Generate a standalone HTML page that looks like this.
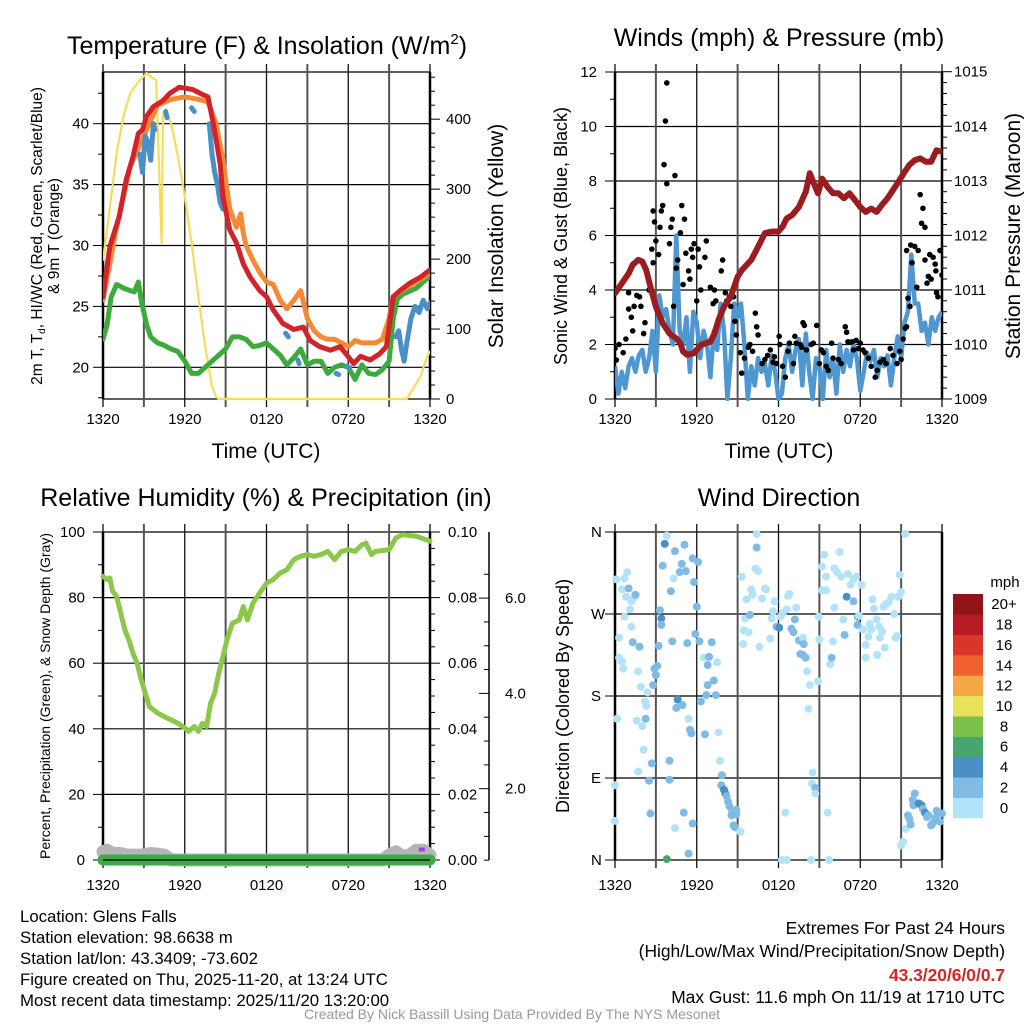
<!DOCTYPE html>
<html><head><meta charset="utf-8"><style>
body{margin:0;background:#fff}
svg{display:block;font-family:"Liberation Sans",sans-serif}
</style></head><body>
<svg id="s" width="1024" height="1024" viewBox="0 0 1024 1024">
<g>
<g font-size="16.8" fill="#000">
<text x="20" y="922">Location: Glens Falls</text>
<text x="20" y="943">Station elevation: 98.6638 m</text>
<text x="20" y="964">Station lat/lon: 43.3409; -73.602</text>
<text x="20" y="985">Figure created on Thu, 2025-11-20, at 13:24 UTC</text>
<text x="20" y="1006">Most recent data timestamp: 2025/11/20 13:20:00</text>
</g>
<g font-size="17.4" text-anchor="end">
<text x="1005" y="934">Extremes For Past 24 Hours</text>
<text x="1005" y="957">(High/Low/Max Wind/Precipitation/Snow Depth)</text>
<text x="1005" y="981" fill="#d62728" font-weight="bold">43.3/20/6/0/0.7</text>
<text x="1005" y="1003">Max Gust: 11.6 mph On 11/19 at 1710 UTC</text>
</g>
<text x="512" y="1019" font-size="14" fill="#999" text-anchor="middle">Created By Nick Bassill Using Data Provided By The NYS Mesonet</text>
</g>
</svg>
<script>
// ---------- DATA ----------
const timeTickLabels=["1320","1920","0120","0720","1320"];
const redH=[0,0.5,1.2,1.7,2.2,2.6,2.9,3.2,3.7,4.4,4.9,5.6,6.6,7.3,7.7,8.1,8.6,8.8,9.3,9.8,10.3,10.8,11.5,12,12.5,13.2,14,14.7,15.2,15.9,16.7,17.4,18.4,18.9,19.6,20.3,20.8,21.3,21.8,22.5,23.3,24];
const redT=[25.8,29.9,32.4,35.4,37.3,39.2,39.5,40.6,41.4,41.9,42.5,43.0,42.8,42.4,42.2,40.0,36.7,34.0,31.3,30.2,28.5,27.4,26.3,25.8,24.7,23.6,23.1,23.3,22.2,21.7,21.4,21.7,20.3,20.9,20.6,21.1,21.7,25.8,26.3,26.9,27.4,28.0];
const orH=[0,1,2,3,4,5,6,7,7.7,8.3,8.8,9.3,9.8,10.1,10.3,10.5,11,11.5,12,12.5,13,13.5,14,14.5,15,15.5,16,16.5,17,18,18.5,19,20,20.5,21,21.3,21.8,22.5,23.3,24];
const orT=[25.5,31.5,36.5,39,41.5,42,42.2,42,41.8,40,37,33,31.5,32.6,31,30,28.8,27.8,27,26.8,25.5,24.8,25.5,26.3,24,23,22.5,22.3,22.3,21.7,22.2,22,22,22.3,24,25.8,26.2,26.7,27.2,27.8];
const grH=[0,0.3,0.6,1,1.5,2,2.3,2.6,2.8,3.2,3.5,4,4.5,5,5.5,6,6.5,7,7.5,8,8.5,9,9.5,10,10.5,11,11.5,12,12.5,13,13.5,14,14.5,15,15.5,16,16.5,17,17.5,18,18.5,19,19.5,20,20.5,21,21.3,21.6,22,23,24];
const grT=[22.3,23.5,25.8,26.8,26.5,26.3,26.2,27,25.5,23.5,22.5,22,21.8,21.5,21.3,20.5,19.5,19.5,20,20.5,21,21.5,22.5,22.5,22.3,21.7,21.8,22,21.5,21,20.2,20.8,21.5,20.2,20.5,20.5,19.5,20,20.2,20,19,20.2,19.5,19.4,19.8,20.5,24,25.6,26,26.5,27.5];
const blH=[2.7,2.9,3.1,3.3,3.5,3.7,3.8,null,4.6,4.7,null,6.5,6.7,null,7.8,8.0,8.2,8.4,8.6,8.8,null,13.4,13.6,null,14.3,14.4,null,17.1,17.3,null,17.9,18.1,null,21.5,21.7,21.9,22.1,22.3,22.6,22.9,23.2,23.5,23.8,24];
const blT=[37.5,36,39,38.5,37,40,39.5,null,41,40.5,null,41.3,41,null,40,37.5,36,35,33.5,33,null,22.8,22.5,null,20.6,20.3,null,19.5,19.4,null,20.1,20,null,22.5,23,21.5,20.5,22,24,25,24.5,25.5,24.8,25.3];
const solH=[0,0.3,1,1.5,2,2.5,3.2,3.6,3.9,4.3,4.4,4.6,5,5.5,6,6.5,7,7.5,8,8.3,8.5,22.3,22.7,23.3,23.7,24];
const solW=[199,242,351,404,437,451,466,459,456,223,409,413,394,347,289,223,146,75,18,3,0,0,13,32,56,68];

const presH=[0,0.5,1,1.3,1.7,2,2.3,2.6,3,3.5,4,4.5,4.8,5,5.3,5.8,6.3,7,7.3,7.6,8,8.5,9,9.3,10,10.5,11,11.5,12,12.3,12.6,13,13.5,14,14.3,14.6,14.9,15.2,15.6,16,16.4,16.8,17.2,17.6,18,18.4,18.8,19.2,19.6,20,20.4,20.8,21.2,21.6,22,22.4,22.8,23.2,23.6,24];
const presMb=[1010.94,1011.12,1011.3,1011.46,1011.55,1011.52,1011.36,1011.06,1010.69,1010.39,1010.2,1010.11,1010.02,1009.87,1009.81,1009.84,1009.99,1010.05,1010.2,1010.45,1010.69,1010.88,1011.24,1011.36,1011.55,1011.79,1012.04,1012.07,1012.07,1012.16,1012.31,1012.37,1012.52,1012.8,1013.14,1012.95,1012.77,1013.04,1012.89,1012.77,1012.77,1012.68,1012.77,1012.65,1012.52,1012.43,1012.49,1012.43,1012.56,1012.68,1012.83,1012.98,1013.14,1013.29,1013.38,1013.41,1013.35,1013.35,1013.56,1013.53];
const windStep=0.25;
const windMph=[1.2,0.2,1.0,0.4,1.2,1.5,1.0,1.6,1.8,1.0,1.5,2.5,1.0,3.8,3.0,3.3,2.5,2.0,6.0,2.5,2.0,3.0,1.0,3.2,2.8,1.5,2.5,2.0,0.8,2.5,1.8,3.5,2.5,0.0,1.5,3.5,3.0,3.5,2.0,0.0,1.2,0.5,1.5,1.0,1.3,0.5,1.6,1.0,0.0,0.2,1.5,2.0,1.0,1.8,2.2,0.5,2.4,1.0,0.0,1.5,1.2,0.0,1.8,0.8,1.5,0.2,2.0,1.0,1.8,1.2,2.0,1.5,0.3,1.0,1.7,1.4,1.8,0.8,1.5,1.2,1.6,0.5,1.5,2.3,1.5,2.8,3.2,5.3,3.5,3.5,2.5,2.8,2.0,3.0,2.5,3.0,3.2];
const gustH=[0,0.1,0.3,0.6,0.8,1.0,1.0,1.2,1.3,1.4,1.6,1.8,1.9,2.1,2.2,2.5,2.7,2.8,2.8,2.9,3.0,3.2,3.3,3.4,3.5,3.6,3.7,3.8,3.8,4.0,4.1,4.2,4.3,4.4,4.5,4.6,4.8,4.9,5.0,5.1,5.2,5.4,5.5,5.6,5.7,5.8,6.0,6.1,6.2,6.3,6.6,6.7,7.0,7.2,7.3,7.4,7.8,7.9,8.1,8.2,8.4,8.5,8.7,8.8,8.9,9.2,9.3,9.5,9.8,9.9,10.1,10.3,10.4,10.5,10.8,11.0,11.2,11.4,11.6,11.7,11.85,12.05,12.1,12.3,12.5,12.7,12.8,13.1,13.2,13.3,13.6,13.7,13.8,13.9,14.05,14.4,14.55,14.8,15.0,15.15,15.3,15.5,15.65,15.9,16.0,16.4,16.6,16.9,17.0,17.1,17.4,17.5,17.7,17.85,18.0,18.2,18.35,18.6,18.8,19.1,19.25,19.45,19.7,19.9,20.2,20.4,20.7,20.9,21.0,21.15,21.3,21.4,21.5,21.65,21.8,21.4,21.7,22.0,22.15,22.25,22.4,22.6,22.5,22.75,22.75,22.9,23.0,23.1,23.2,23.35,23.5,23.55,23.6,23.7,23.85,24.0];
const gustMph=[1.86,1.43,2.0,1.7,2.2,3.9,3.3,3.0,2.5,3.4,3.8,3.75,3.4,2.4,2.8,4.0,5.5,5.0,6.9,6.5,5.8,5.3,6.3,6.9,7.1,8.6,10.2,11.6,7.9,5.7,6.3,6.6,3.4,8.2,4.8,5.1,6.1,7.1,4.2,6.6,5.35,4.7,4.4,5.5,5.2,5.7,3.6,5.5,4.85,4.0,5.2,5.8,4.1,3.5,4.0,3.6,4.7,5.1,3.9,3.6,3.75,3.4,3.75,2.85,2.35,1.7,0.95,1.5,1.9,2.0,1.75,3.15,2.65,2.35,1.3,1.45,1.6,1.8,1.35,1.55,1.3,2.3,2.0,1.2,0.8,1.75,2.05,1.3,2.3,2.05,2.0,1.9,2.8,2.7,1.8,2.0,2.05,2.7,1.3,1.8,1.7,1.2,1.05,2.05,1.5,1.45,1.3,2.65,2.45,2.1,2.1,1.8,2.15,1.85,2.05,1.8,1.7,1.5,1.2,0.8,1.05,1.35,1.45,1.3,1.85,1.6,1.3,1.75,1.45,2.2,2.6,2.65,3.7,3.4,5.0,5.45,5.65,5.6,4.1,5.45,7.5,7.0,6.45,6.3,5.1,4.25,4.5,5.3,4.4,5.2,4.95,4.7,3.9,3.75,5.45,4.55];

const rhH=[0,0.3,0.5,0.7,1,1.3,1.6,1.9,2.2,2.5,2.8,3.1,3.4,3.7,4,4.5,5,5.5,6,6.3,6.7,7.0,7.3,7.6,7.9,8.2,8.5,8.8,9.1,9.5,10,10.3,10.6,11,11.5,12,12.5,13,13.5,14,14.5,15,15.5,16,16.5,17,17.5,18,18.5,19,19.3,19.7,20,21,21.5,22,23,24];
const rhPct=[86.5,85.5,86,82,80.4,75.3,70.2,67.1,63,60,55,50.9,46.8,45.8,44.8,43.7,42.7,41.7,40.2,39.2,40.7,39.2,41.7,40.7,47.8,50.9,57,62,67.1,72.2,73.2,77.3,73.2,78.3,81.4,84.4,85.5,87.5,88.5,91.6,92.6,93.1,92.6,93.1,94.1,91.6,94.1,94.6,94.1,96.1,96.6,93.1,94.1,94.6,98.2,99.2,98.7,97.2];
const precipH=[0,24];
const precipIn=[0,0];
const snowH=[0,0.3,0.7,1.2,1.8,2.5,3,3.5,4.5,5,20.5,21,21.5,22,22.5,23,23.5,24];
const snowPct=[2.5,3,2,2,1.5,1.5,1.5,2,1.5,0,0,1.5,2.5,1,1.5,3,3,1.5];
const markH=[23.4], markPct=[3.2];

const dirPts=[[0.1,308,1],[0.3,244,1],[0.3,222,1],[0.5,218,1],[0.6,210,1],[0.5,297,1],[0.7,309,1],[0.9,316,1],[0.8,289,1],[1.0,298,3],[1.1,275,1],[1.2,284,1],[1.3,286,1],[1.5,291,3],[0.7,267,1],[1.2,256,1],[1.3,239,3],[1.8,234,3],[1.7,207,1],[1.9,190,1],[2.4,184,1],[2.2,174,1],[2.3,169,1],[0.15,155,1],[1.6,153,1],[2.25,155,3],[2.0,147,1],[2.1,121,1],[1.7,97,1],[2.7,106,3],[2.5,87,3],[2.6,51,3],[0,82,1],[0,43,1],[2.9,210,3],[3.0,203,3],[2.8,192,3],[3.1,213,3],[3.2,235,3],[3.3,274,3],[3.4,265,5],[3.4,258,3],[3.5,323,3],[3.65,347,5],[3.8,356,1],[4.1,295,3],[4.3,309,1],[4.4,339,3],[4.2,240,3],[4.0,109,3],[4.0,88,3],[4.6,176,5],[4.5,167,3],[4.95,170,3],[4.9,325,3],[4.75,316,3],[5.2,317,3],[5.1,346,3],[5.7,331,3],[6.1,327,3],[5.8,305,3],[6.0,278,3],[5.3,238,3],[5.9,248,3],[6.2,240,3],[5.4,155,1],[5.5,143,3],[5.6,139,3],[5.05,52,3],[5.7,40,3],[4.4,35,1],[5.4,7,3],[3.8,1,7],[6.5,222,1],[6.9,223,3],[6.8,214,3],[7.1,239,3],[7.25,197,3],[7.5,217,1],[6.8,192,3],[6.7,181,3],[6.3,174,3],[7.4,181,3],[6.6,138,3],[7.6,140,1],[7.7,109,1],[7.85,93,3],[7.8,82,3],[8.0,77,5],[8.1,73,5],[8.2,70,3],[8.3,64,3],[8.4,59,3],[8.55,49,3],[8.6,53,3],[8.9,55,3],[8.9,50,3],[8.7,38,3],[8.8,36,3],[9.2,31,1],[9.3,311,1],[9.4,237,1],[9.45,252,1],[9.55,265,1],[9.65,286,1],[9.9,269,3],[9.8,250,1],[10.0,297,1],[10.1,291,1],[10.3,320,1],[10.5,317,1],[10.4,343,3],[10.4,358,1],[10.6,234,1],[10.8,287,1],[11.0,298,1],[11.1,297,1],[11.4,243,1],[11.5,265,1],[11.6,273,1],[11.7,284,1],[11.85,256,3],[12.05,255,5],[12.15,267,1],[12.3,271,1],[12.6,275,1],[12.7,290,1],[12.8,292,1],[12.95,254,3],[13.1,250,3],[13.2,264,3],[13.3,277,1],[13.5,241,3],[13.8,244,1],[13.85,237,3],[13.6,226,3],[13.8,225,3],[14.0,222,3],[14.1,207,1],[14.3,192,1],[14.2,166,1],[14.5,96,1],[14.45,84,1],[14.7,79,3],[14.7,73,1],[12.5,52,1],[15.6,52,1],[14.9,196,1],[15.0,242,1],[14.95,267,1],[15.2,296,1],[15.2,322,1],[15.35,335,1],[15.5,296,1],[15.5,311,1],[15.8,215,1],[15.9,222,3],[16.0,240,1],[16.1,277,1],[16.5,338,1],[16.1,320,1],[16.3,316,1],[16.6,311,1],[16.75,264,1],[16.85,247,3],[17.0,289,5],[17.1,314,1],[17.3,302,1],[17.5,308,1],[17.5,284,3],[17.7,311,1],[17.85,267,5],[17.8,258,3],[17.9,268,1],[18.1,302,1],[18.2,253,1],[18.4,236,1],[18.4,222,1],[18.6,245,1],[18.7,259,1],[18.8,253,1],[18.9,286,1],[19.0,276,1],[19.2,264,1],[19.25,225,1],[19.4,256,1],[19.45,244,1],[19.6,251,1],[19.8,233,1],[19.7,278,1],[19.9,281,1],[20.1,283,1],[20.3,289,1],[20.5,270,1],[20.6,244,1],[20.7,246,1],[20.8,289,1],[20.9,313,1],[21.0,294,1],[21.3,358,1],[21.0,16,1],[21.15,20,1],[21.35,34,1],[21.5,49,3],[21.6,45,3],[21.7,39,3],[21.85,66,3],[22.0,73,3],[21.9,60,3],[22.1,62,3],[22.3,62,5],[22.5,60,5],[22.6,56,3],[22.75,52,5],[22.9,47,3],[23.0,49,3],[23.2,38,3],[23.3,40,3],[23.5,46,3],[23.6,54,3],[23.7,51,3],[23.85,42,3],[24.0,51,3],[12.25,0,1],[12.6,0,1],[14.4,0,1],[15.7,0,1]];
const dirLabels=["N","E","S","W","N"];
const speedBinLabels=["0","2","4","6","8","10","12","14","16","18","20+"];
const speedColors=["#b3e3f8","#7fbbe4","#4a90c7","#48a56e","#7cc04a","#e6e25a","#f5a845","#ef6230","#dc342a","#b71c24","#8f1519"];

// ---------- DRAW ----------
const S=document.getElementById('s'),NS="http://www.w3.org/2000/svg";
const TF=15, TT=25, AT=21;
function mk(tag,attrs,parent){const e=document.createElementNS(NS,tag);for(const k in attrs)e.setAttribute(k,attrs[k]);(parent||S).appendChild(e);return e;}
function txt(x,y,s,size,anchor,parent,extra){const t=mk('text',Object.assign({x:x,y:y,'font-size':size,'text-anchor':anchor||'middle'},extra||{}),parent);t.textContent=s;return t;}
function pathFrom(hs,vs,xf,yf){let d="",pen=false;for(let i=0;i<hs.length;i++){if(hs[i]===null||vs[i]===null){pen=false;continue;}d+=(pen?"L":"M")+xf(hs[i]).toFixed(1)+","+yf(vs[i]).toFixed(1);pen=true;}return d;}

const X0=103,X1=430,X2=615,X3=942;
function xsL(h){return X0+h*(X1-X0)/24;}
function xsR(h){return X2+h*(X3-X2)/24;}

function frame(g,xl,xr,yt,yb,xf,hlines,labY){
  hlines.forEach(y=>{const l=mk('line',{x1:xl,x2:xr,y1:y,y2:y,stroke:'#000','stroke-width':1.2},g);
  
  });
  for(let i=0;i<=8;i++){const x=xf(i*3);const l=mk('line',{x1:x,x2:x,y1:yt-8,y2:yb+8,stroke:(i%2?'#555':'#111'),'stroke-width':(i%2?2:1.3)},g);
  
  }
  mk('line',{x1:xl,x2:xl,y1:yt,y2:yb,stroke:'#000','stroke-width':2.5},g);
  mk('line',{x1:xr,x2:xr,y1:yt,y2:yb,stroke:'#000','stroke-width':2.5},g);
  for(let i=0;i<5;i++){const t=txt(xf(i*6),labY,timeTickLabels[i],TF,'middle',g);
  
  }
}

// ===== Panel 1: Temperature =====
(function(){
 const g=mk('g',{});
 const yT=v=>123.7+(40-v)*12.18, yS=w=>399-w*0.6995;
 const hl=[20,25,30,35,40].map(yT).concat([72,399]);
 frame(g,X0,X1,72,399,xsL,hl,424);
 for(let v=17.5;v<=44;v+=2.5){const major=(v%5===0);mk('line',{x1:X0-(major?10:5),x2:X0,y1:yT(v),y2:yT(v),stroke:'#000','stroke-width':1},g);
   if(major){const t=txt(X0-14,yT(v)+5,String(v),TF,'end',g);}}
 for(let w=0;w<=460;w+=20){const major=(w%100===0);mk('line',{x1:X1,x2:X1+(major?10:5),y1:yS(w),y2:yS(w),stroke:'#000','stroke-width':1},g);
   if(major){const t=txt(X1+16,yS(w)+5,String(w),TF,'start',g);}}
 const cp=mk('clipPath',{id:'c1'},g);mk('rect',{x:X0,y:68,width:X1-X0,height:333},cp);
 const pg=mk('g',{'clip-path':'url(#c1)'},g);
 [[solH,solW,'#f7dc5a',2.2,yS,'solar-line'],[grH,grT,'#3daa3d',5,yT,'dewpoint-line'],[orH,orT,'#f58a35',5,yT,'temp-9m-line'],[blH,blT,'#4a90c7',5,yT,'heat-index-wind-chill-line'],[redH,redT,'#d2232a',5,yT,'temp-2m-line']].forEach(s=>{
   const p=mk('path',{d:pathFrom(s[0],s[1],xsL,s[4]),fill:'none',stroke:s[2],'stroke-width':s[3],'stroke-linejoin':'round','stroke-linecap':'round'},pg);
   
   });
 let t=txt(267,54,'',TT,'middle',g);t.innerHTML='Temperature (F) &amp; Insolation (W/m<tspan font-size="15" dy="-10">2</tspan><tspan dy="10">)</tspan>';
 
 t=txt(266,458,'Time (UTC)',AT,'middle',g);
 t=txt(0,0,'',15.5,'middle',g,{transform:'translate(42,236) rotate(-90)'});t.innerHTML='2m T, T<tspan font-size="10" dy="3">d</tspan><tspan dy="-3">, HI/WC (Red, Green, Scarlet/Blue)</tspan>';
 
 t=txt(0,0,'& 9m T (Orange)',15.5,'middle',g,{transform:'translate(59,236) rotate(-90)'});
 t=txt(0,0,'Solar Insolation (Yellow)',AT,'middle',g,{transform:'translate(503,236) rotate(-90)'});
})();

// ===== Panel 2: Winds =====
(function(){
 const g=mk('g',{});
 const yW=v=>399-v*27.25, yP=p=>399-(p-1009)*54.55;
 const hl=[0,2,4,6,8,10,12].map(yW);
 frame(g,X2,X3,72,399,xsR,hl,424);
 for(let v=0;v<=12;v+=1){const major=(v%2===0);mk('line',{x1:X2-(major?10:5),x2:X2,y1:yW(v),y2:yW(v),stroke:'#000','stroke-width':1},g);
   if(major){const t=txt(X2-18,yW(v)+5,String(v),TF,'end',g);}}
 for(let i=0;i<=30;i++){const p=1009+i*0.2,major=(i%5===0);mk('line',{x1:X3,x2:X3+(major?10:5),y1:yP(p),y2:yP(p),stroke:'#000','stroke-width':1},g);
   if(major){const t=txt(X3+12,yP(p)+5,String(1009+i/5),TF,'start',g);}}
 const cp=mk('clipPath',{id:'c2'},g);mk('rect',{x:X2,y:68,width:X3-X2,height:333},cp);
 const pg=mk('g',{'clip-path':'url(#c2)'},g);
 const wh=windMph.map((v,i)=>i*windStep);
 let p=mk('path',{d:pathFrom(wh,windMph,xsR,yW),fill:'none',stroke:'#4f97d1','stroke-width':4.5,'stroke-linejoin':'round'},pg);
 
 gustH.forEach((h,i)=>{const c=mk('circle',{cx:xsR(h),cy:yW(gustMph[i]),r:2.8,fill:'#000'},pg);
   
   });
 p=mk('path',{d:pathFrom(presH,presMb,xsR,yP),fill:'none',stroke:'#9b1c1f','stroke-width':6,'stroke-linejoin':'round','stroke-linecap':'round'},pg);
 
 let t=txt(779,46,'Winds (mph) & Pressure (mb)',TT,'middle',g);
 t=txt(779,458,'Time (UTC)',AT,'middle',g);
 t=txt(0,0,'Sonic Wind & Gust (Blue, Black)',18,'middle',g,{transform:'translate(567,236) rotate(-90)'});
 t=txt(0,0,'Station Pressure (Maroon)',AT,'middle',g,{transform:'translate(1020,236) rotate(-90)'});
})();

// ===== Panel 3: RH =====
(function(){
 const g=mk('g',{});
 const yR=v=>860-v*3.28, yPr=v=>860-v*3280, yD=v=>884-v*47.65;
 const hl=[0,20,40,60,80,100].map(yR);
 frame(g,X0,X1,532,860,xsL,hl,890);
 for(let v=0;v<=100;v+=10){const major=(v%20===0);mk('line',{x1:X0-(major?10:5),x2:X0,y1:yR(v),y2:yR(v),stroke:'#000','stroke-width':1},g);
   if(major){const t=txt(X0-18,yR(v)+5,String(v),TF,'end',g);}}
 for(let i=0;i<=20;i++){const v=i*0.005,major=(i%4===0);mk('line',{x1:X1,x2:X1+(major?10:5),y1:yPr(v),y2:yPr(v),stroke:'#000','stroke-width':1},g);
   if(major){const t=txt(X1+18,yPr(v)+5,v.toFixed(2),TF,'start',g);}}
 mk('line',{x1:489,x2:489,y1:532,y2:860,stroke:'#000','stroke-width':1.5},g);
 for(let i=1;i<=13;i++){const v=i*0.5,major=(i%4===0);if(yD(v)<532)break;mk('line',{x1:489,x2:489-(major?10:5),y1:yD(v),y2:yD(v),stroke:'#000','stroke-width':1},g);
   if(major){const t=txt(505,yD(v)+5,v.toFixed(1),TF,'start',g);}}
 let p=mk('path',{d:pathFrom(snowH,snowPct,xsL,yR),fill:'none',stroke:'#b5b5b5','stroke-width':13,'stroke-linejoin':'round','stroke-linecap':'round'},g);
 
 p=mk('path',{d:pathFrom(precipH,precipIn,xsL,yPr),fill:'none',stroke:'#3daa45','stroke-width':11,'stroke-linecap':'round'},g);
 
 mk('line',{x1:X0,x2:X1,y1:860,y2:860,stroke:'#000','stroke-width':1.2},g);
 markH.forEach((h,i)=>{const r=mk('rect',{x:xsL(h)-3,y:yR(markPct[i])-2,width:6,height:4,fill:'#a63ce0'},g);
   
   });
 p=mk('path',{d:pathFrom(rhH,rhPct,xsL,yR),fill:'none',stroke:'#8bc84a','stroke-width':5,'stroke-linejoin':'round','stroke-linecap':'round'},g);
 
 let t=txt(266,506,'Relative Humidity (%) & Precipitation (in)',TT,'middle',g);
 t=txt(0,0,'Percent, Precipitation (Green), & Snow Depth (Gray)',14,'middle',g,{transform:'translate(50,696) rotate(-90)'});
})();

// ===== Panel 4: Wind Direction =====
(function(){
 const g=mk('g',{});
 const yDg=d=>860-d*(328/360);
 const hl=[0,90,180,270,360].map(yDg);
 frame(g,X2,X3,532,860,xsR,hl,890);
 dirLabels.forEach((s,i)=>{mk('line',{x1:X2-10,x2:X2,y1:yDg(i*90),y2:yDg(i*90),stroke:'#000','stroke-width':1},g);
   const t=txt(X2-24,yDg(i*90)+5,s,TF,'start',g);});
 dirPts.forEach(pt=>{const bin=Math.min(10,Math.floor(pt[2]/2));const c=mk('circle',{cx:xsR(pt[0]),cy:yDg(pt[1]),r:4,fill:speedColors[bin]},g);
   
   });
 let t=txt(779,506,'Wind Direction',TT,'middle',g);
 t=txt(0,0,'Direction (Colored By Speed)',18,'middle',g,{transform:'translate(569,696) rotate(-90)'});
 const lg=mk('g',{},g);
 const bh=(818-594)/11;
 speedColors.forEach((c,i)=>{const y=818-(i+1)*bh;const r=mk('rect',{x:953,y:y,width:30,height:bh+0.3,fill:c},lg);
   
   
   const tt=txt(1004,y+bh/2+5,speedBinLabels[i],TF,'middle',lg);
   
   });
 t=txt(1005,587,'mph',TF,'middle',lg);
})();
</script>
</body></html>
